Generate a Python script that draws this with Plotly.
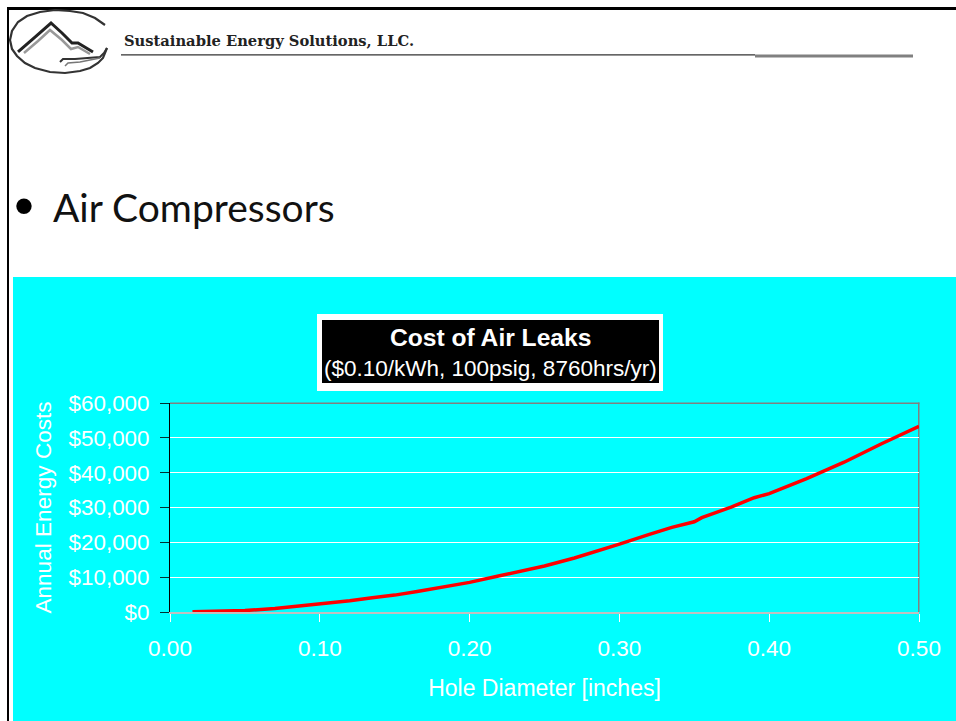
import plotly.graph_objects as go

hole_diameter = [0.015, 0.03, 0.05, 0.07, 0.09, 0.10, 0.12, 0.135, 0.15, 0.165, 0.18, 0.20, 0.22, 0.24, 0.25, 0.27,
                 0.29, 0.30, 0.32, 0.335, 0.35, 0.355, 0.375, 0.39, 0.40, 0.425, 0.45, 0.475, 0.50]
annual_cost = [40, 180, 420, 1000, 1800, 2200, 3200, 4100, 4850, 5900, 7000, 8500, 10400, 12300, 13200, 15500,
               18000, 19500, 22300, 24300, 25900, 27100, 30150, 32800, 34000, 38300, 43000, 48300, 53300]
x_ticks = [0.0, 0.1, 0.2, 0.3, 0.4, 0.5]
y_ticks = [0, 10000, 20000, 30000, 40000, 50000, 60000]
y_tick_labels = ["$0", "$10,000", "$20,000", "$30,000", "$40,000", "$50,000", "$60,000"]

W, H = 956, 721
px = lambda x: x / W
py = lambda y: 1 - y / H


def rect(x0, y0, x1, y1, fill, layer="below"):
    return dict(type="rect", xref="paper", yref="paper", layer=layer, x0=px(x0), x1=px(x1), y0=py(y0), y1=py(y1),
                fillcolor=fill, line_width=0)


def curve(points, width, color="#333333"):
    d = "M " + " L ".join(f"{px(a):.5f},{py(b):.5f}" for a, b in points)
    return dict(type="path", xref="paper", yref="paper", layer="below", path=d, line=dict(color=color, width=width))


ellipse_pts = [(105, 25), (95, 18), (83, 13), (70, 11), (55, 10), (40, 12), (27, 16), (18, 22), (12, 31), (10, 40),
               (12, 49), (17, 56), (25, 63), (35, 68), (50, 72), (65, 73), (80, 71), (90, 68), (98, 63), (103, 58),
               (107, 48)]
mountain_pts = [(18, 52), (35, 37), (51, 23), (62, 33), (72, 43), (78, 43), (93, 52)]
shadow_pts = [(24, 53), (38, 41), (50, 30), (62, 40), (71, 49), (78, 47), (90, 54)]
lake_pts = [(60, 62), (63, 59), (75, 59), (100, 57), (104, 53), (107, 48)]
lake_low_pts = [(65, 66), (68, 63), (80, 62), (100, 58)]

shapes = [
    rect(0, 0, W, H, "#ffffff"),
    rect(13, 277, W, H, "#00ffff"),
    rect(7, 7, W, 10, "#000000"),
    rect(7, 7, 9, H, "#000000"),
    rect(121, 54.3, 755, 55.6, "#333333"),
    rect(755, 54.5, 913, 57.5, "#808080"),
    rect(317, 314, 663, 391, "#ffffff"),
    rect(322, 320, 659, 383, "#000000"),
    rect(170, 402.5, 919.5, 404, "#808080"),
    rect(918, 402.5, 919.5, 612, "#808080"),
    curve(ellipse_pts, 2.2),
    curve(shadow_pts, 2.5, "#999999"),
    curve(mountain_pts, 3, "#222222"),
    curve(lake_pts, 2),
    curve(lake_low_pts, 1.5, "#777777"),
]

annotations = [
    dict(text="<b>Sustainable Energy Solutions, LLC.</b>", x=px(121.5), y=py(41), xanchor="left", yanchor="middle",
         font=dict(family="DejaVu Serif", size=14.7, color="#222222")),
    dict(text="•", x=px(23.5), y=py(205), xanchor="center", yanchor="middle",
         font=dict(family="Liberation Sans", size=57, color="#000000")),
    dict(text="Air Compressors", x=px(50.5), y=py(207), xanchor="left", yanchor="middle",
         font=dict(family="Lato", size=39, color="#111111")),
    dict(text="<b>Cost of Air Leaks</b>", x=px(490.5), y=py(337), xanchor="center", yanchor="middle",
         font=dict(family="Liberation Sans", size=24.6, color="#ffffff")),
    dict(text="($0.10/kWh, 100psig, 8760hrs/yr)", x=px(490.5), y=py(368), xanchor="center", yanchor="middle",
         font=dict(family="Liberation Sans", size=22.5, color="#ffffff")),
]
for a in annotations:
    a.update(xref="paper", yref="paper", showarrow=False)

fig = go.Figure(go.Scatter(x=hole_diameter, y=annual_cost, mode="lines", line=dict(color="#ff0000", width=3.5),
                           hoverinfo="skip", cliponaxis=False))
fig.update_layout(
    width=W, height=H, autosize=False, margin=dict(l=0, r=0, t=0, b=0, pad=0), showlegend=False,
    paper_bgcolor="rgba(0,0,0,0)", plot_bgcolor="rgba(0,0,0,0)", shapes=shapes, annotations=annotations,
    font=dict(family="Liberation Sans", color="#ffffff"),
    xaxis=dict(domain=[px(170), px(919)], range=[0, 0.5], tickvals=x_ticks, tickformat=".2f", showgrid=False,
               automargin=False, zeroline=False, showline=True, linecolor="#c0c0c0", linewidth=2, ticks="outside",
               ticklen=8, tickcolor="#ffffff", tickwidth=1, ticklabelstandoff=7, tickfont=dict(size=22.5, color="#ffffff"),
               title=dict(text="Hole Diameter [inches]", font=dict(size=23, color="#ffffff"), standoff=20)),
    yaxis=dict(domain=[py(612), py(403)], range=[0, 60000], tickvals=y_ticks, ticktext=y_tick_labels,
               automargin=False, showgrid=True, gridcolor="#ffffff", gridwidth=1, zeroline=False, showline=True,
               linecolor="#000000", linewidth=1, ticks="outside", ticklen=9, tickcolor="#003030", tickwidth=1,
               ticklabelstandoff=6, tickfont=dict(size=22.4, color="#ffffff"),
               title=dict(text="Annual Energy Costs", font=dict(size=22.6, color="#ffffff"), standoff=10)),
)
fig.write_html("out.html", config=dict(displayModeBar=False),
               post_script="document.body.style.margin='0';document.body.style.overflow='hidden';")
